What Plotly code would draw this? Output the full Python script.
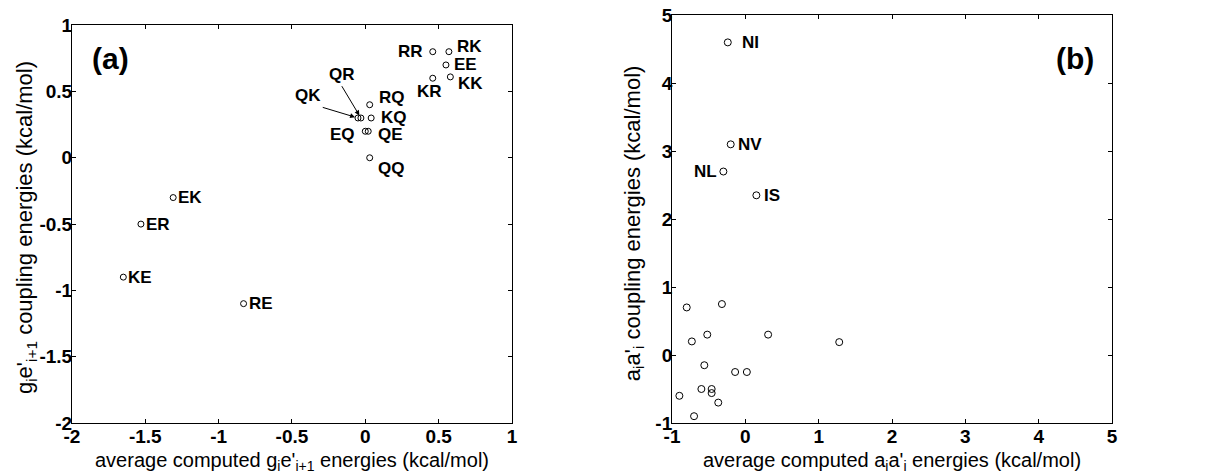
import plotly.graph_objects as go

# ---- Panel (a) data ----
a_names = ["RR", "RK", "EE", "KK", "KR", "RQ", "KQ", "QK", "QR", "EQ", "QE", "QQ", "EK", "ER", "KE", "RE"]
a_x = [0.46, 0.57, 0.55, 0.58, 0.46, 0.03, 0.04, -0.05, -0.03, 0.0, 0.02, 0.03, -1.31, -1.53, -1.65, -0.83]
a_y = [0.80, 0.80, 0.70, 0.61, 0.60, 0.40, 0.30, 0.30, 0.30, 0.20, 0.20, 0.00, -0.30, -0.50, -0.90, -1.10]

# ---- Panel (b) data ----
b_x = [-0.24, -0.20, -0.30, 0.15, -0.80, -0.32, -0.73, -0.52, -0.56, -0.14, 0.02, 0.31, 1.28,
       -0.90, -0.60, -0.46, -0.46, -0.37, -0.70]
b_y = [4.60, 3.10, 2.70, 2.35, 0.70, 0.75, 0.20, 0.30, -0.15, -0.25, -0.25, 0.30, 0.19,
       -0.60, -0.50, -0.50, -0.56, -0.70, -0.90]
b_names = ["NI", "NV", "NL", "IS"] + [""] * 15

a_ticks = [-2, -1.5, -1, -0.5, 0, 0.5, 1]
b_ticks = [-1, 0, 1, 2, 3, 4, 5]

a_xtitle = "average computed g<sub>i</sub>e'<sub>i+1</sub> energies (kcal/mol)"
a_ytitle = "g<sub>i</sub>e'<sub>i+1</sub> coupling energies (kcal/mol)"
b_xtitle = "average computed a<sub>i</sub>a'<sub>i</sub> energies (kcal/mol)"
b_ytitle = "a<sub>i</sub>a'<sub>i</sub> coupling energies (kcal/mol)"

# label offsets in pixels (style, not data)
a_off = {"RR": (-8, 0, "right"), "RK": (6, 5, "left"), "EE": (6, 0, "left"), "KK": (6, -7, "left"),
         "KR": (-3, -13, "center"), "RQ": (7, 7, "left"), "KQ": (8, 0, "left"), "QE": (8, -3, "left"),
         "EQ": (-8, -3, "right"), "QQ": (6, -11, "left"), "EK": (3, 0, "left"), "ER": (3, 0, "left"),
         "KE": (3, 0, "left"), "RE": (3, 0, "left")}
b_off = {"NI": (12, 0, "left"), "NV": (5, 0, "left"), "NL": (-4, 0, "right"), "IS": (6, 0, "left")}

FONT = "Liberation Sans, Arial, sans-serif"
LBL = dict(family=FONT, size=17, color="black", weight="bold")
XTTL = dict(family=FONT, size=20, color="black")
YTTL = dict(family=FONT, size=22, color="black")

fig = go.Figure()
fig.add_trace(go.Scatter(x=a_x, y=a_y, mode="markers", xaxis="x", yaxis="y",
                         marker=dict(symbol="circle-open", size=6, color="black", line=dict(width=1)),
                         showlegend=False))
fig.add_trace(go.Scatter(x=b_x, y=b_y, mode="markers", xaxis="x2", yaxis="y2",
                         marker=dict(symbol="circle-open", size=7, color="black", line=dict(width=1)),
                         showlegend=False))

annotations = []
for n, x, y in zip(a_names, a_x, a_y):
    if n in a_off:
        dx, dy, anc = a_off[n]
        annotations.append(dict(x=x, y=y, xref="x", yref="y", text=n, showarrow=False,
                                xanchor=anc, yanchor="middle", xshift=dx, yshift=dy, font=LBL))
for n, x, y in zip(b_names, b_x, b_y):
    if n in b_off:
        dx, dy, anc = b_off[n]
        annotations.append(dict(x=x, y=y, xref="x2", yref="y2", text=n, showarrow=False,
                                xanchor=anc, yanchor="middle", xshift=dx, yshift=dy, font=LBL))

# arrows for QK and QR (tail position in data units, text anchor)
arrow_src = {"QK": (-0.29, 0.38, "right"), "QR": (-0.16, 0.54, "center")}
for n, x, y in zip(a_names, a_x, a_y):
    if n in arrow_src:
        ax, ay, anc = arrow_src[n]
        annotations.append(dict(x=x, y=y, xref="x", yref="y", ax=ax, ay=ay, axref="x", ayref="y",
                                text=n, showarrow=True, arrowhead=2, arrowsize=1, arrowwidth=1,
                                arrowcolor="black", standoff=3, xanchor=anc, yanchor="bottom", font=LBL))

annotations.append(dict(x=0.04, y=0.917, xref="x domain", yref="y domain", text="(a)", showarrow=False,
                        xanchor="left", yanchor="middle",
                        font=dict(family=FONT, size=30, color="black", weight="bold")))
annotations.append(dict(x=0.963, y=0.895, xref="x2 domain", yref="y2 domain", text="(b)", showarrow=False,
                        xanchor="right", yanchor="middle",
                        font=dict(family=FONT, size=30, color="black", weight="bold")))

# axis titles as annotations (paper coords)
annotations.append(dict(x=0.5, y=(475 - 461) / 475, xref="x domain", yref="paper", text=a_xtitle,
                        showarrow=False, xanchor="center", yanchor="middle", font=XTTL))
annotations.append(dict(x=0.5, y=(475 - 461) / 475, xref="x2 domain", yref="paper", text=b_xtitle,
                        showarrow=False, xanchor="center", yanchor="middle", font=XTTL))
annotations.append(dict(x=26 / 1212, y=0.49, xref="paper", yref="y domain", text=a_ytitle, showarrow=False,
                        textangle=-90, xanchor="center", yanchor="middle", font=YTTL))
annotations.append(dict(x=634 / 1212, y=0.49, xref="paper", yref="y2 domain", text=b_ytitle, showarrow=False,
                        textangle=-90, xanchor="center", yanchor="middle", font=YTTL))

ax_common = dict(showgrid=False, zeroline=False, showline=True, linecolor="black", linewidth=1,
                 mirror="ticks", ticks="inside", ticklen=4, tickcolor="black", automargin=False,
                 tickfont=dict(family=FONT, size=19, color="black", weight="bold"))

fig.update_layout(
    width=1212, height=475,
    margin=dict(l=0, r=0, t=0, b=0),
    paper_bgcolor="white", plot_bgcolor="white",
    annotations=annotations,
    xaxis=dict(domain=[0.0594, 0.4224], range=[-2, 1], tickvals=a_ticks,
               ticktext=[f"{t:g}" for t in a_ticks], anchor="y", ticklabelstandoff=-4, **ax_common),
    yaxis=dict(domain=[0.1095, 0.947], range=[-2, 1], tickvals=a_ticks,
               ticktext=[f"{t:g}" for t in a_ticks], anchor="x", ticklabelstandoff=-5, **ax_common),
    xaxis2=dict(domain=[0.5545, 0.9175], range=[-1, 5], tickvals=b_ticks,
                ticktext=[str(t) for t in b_ticks], anchor="y2", ticklabelstandoff=-4, **ax_common),
    yaxis2=dict(domain=[0.1095, 0.968], range=[-1, 5], tickvals=b_ticks,
                ticktext=[str(t) for t in b_ticks], anchor="x2", ticklabelstandoff=-5, **ax_common),
)

fig.write_html("out.html")
